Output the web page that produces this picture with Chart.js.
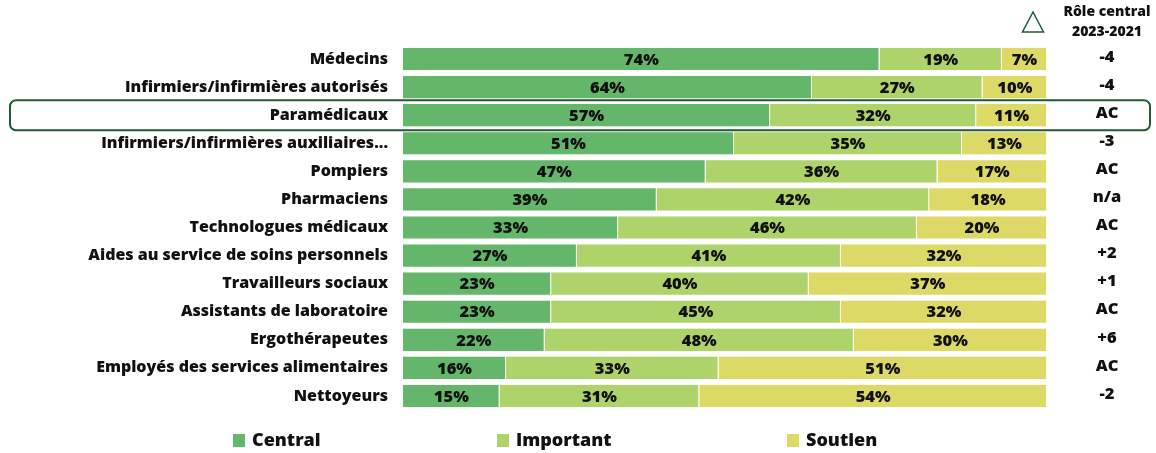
<!DOCTYPE html>
<html>
<head>
<meta charset="utf-8">
<script src="https://cdn.jsdelivr.net/npm/chart.js@4"></script>
<style>
  html, body { margin: 0; padding: 0; background: #fff; }
  #wrap { width: 1156px; height: 453px; position: relative; }
</style>
</head>
<body>
<div id="wrap"><canvas id="chartRoles"></canvas></div>
<script>
var categories = [
    "Médecins",
    "Infirmiers/infirmières autorisés",
    "Paramédicaux",
    "Infirmiers/infirmières auxiliaires...",
    "Pompiers",
    "Pharmaciens",
    "Technologues médicaux",
    "Aides au service de soins personnels",
    "Travailleurs sociaux",
    "Assistants de laboratoire",
    "Ergothérapeutes",
    "Employés des services alimentaires",
    "Nettoyeurs"
];
var central = [74, 63.5, 57, 51.4, 47, 39.4, 33.4, 27, 23, 23, 22, 16, 15];
var important = [19, 26.5, 32, 35.4, 36, 42.3, 46.4, 41, 40, 45, 48, 33, 31];
var soutien = [7, 10, 11, 13.2, 17, 18.3, 20.2, 32, 37, 32, 30, 51, 54];
var changeLabels = ["-4", "-4", "AC", "-3", "AC", "n/a", "AC", "+2", "+1", "AC", "+6", "AC", "-2"];
var seriesNames = ["Central", "Important", "Soutien"];
var seriesColors = ["#64b66a", "#aed36b", "#dcd966"];
var highlightIndex = 2;

var fontFamily = "'Open Sans', Lato, sans-serif";

var overlay = {
    id: "overlay",
    afterDatasetsDraw: function (chart) {
        var ctx = chart.ctx;
        var y = chart.scales.y;
        ctx.save();
        // percentages inside segments
        ctx.font = "800 16.5px " + fontFamily;
        ctx.fillStyle = "#111";
        ctx.textAlign = "center";
        ctx.textBaseline = "middle";
        chart.data.datasets.forEach(function (ds, di) {
            chart.getDatasetMeta(di).data.forEach(function (bar, i) {
                var cx = (bar.x + bar.base) / 2;
                ctx.fillText(Math.round(ds.data[i]) + "%", cx, bar.y + 1);
            });
        });
        // right column
        changeLabels.forEach(function (t, i) {
            ctx.fillText(t, 1107, y.getPixelForValue(i) - 2);
        });
        // header
        ctx.font = "800 14px " + fontFamily;
        ctx.fillText("Rôle central", 1107, 12);
        ctx.fillText("2023-2021", 1107, 32);
        ctx.strokeStyle = "#1f5b35";
        ctx.lineWidth = 1.5;
        ctx.beginPath();
        ctx.moveTo(1033, 12);
        ctx.lineTo(1022.5, 32);
        ctx.lineTo(1043.5, 32);
        ctx.closePath();
        ctx.stroke();
        // highlight box
        var hy = y.getPixelForValue(highlightIndex);
        ctx.strokeStyle = "#1f5b35";
        ctx.lineWidth = 2;
        ctx.beginPath();
        ctx.roundRect(10, hy - 15, 1140, 30, 6);
        ctx.stroke();
        // legend
        var legendX = [233, 497, 787];
        ctx.font = "800 18px " + fontFamily;
        ctx.textAlign = "left";
        seriesNames.forEach(function (n, i) {
            ctx.fillStyle = seriesColors[i];
            ctx.fillRect(legendX[i], 434, 12, 13);
            ctx.fillStyle = "#111";
            ctx.fillText(n, legendX[i] + 19, 441);
        });
        ctx.restore();
    }
};

var ctx = document.getElementById("chartRoles").getContext("2d");

var chartData = {
    labels: categories,
    datasets: [
        { label: seriesNames[0], data: central, backgroundColor: seriesColors[0] },
        { label: seriesNames[1], data: important, backgroundColor: seriesColors[1] },
        { label: seriesNames[2], data: soutien, backgroundColor: seriesColors[2] }
    ].map(function (d) {
        d.borderColor = "#fbfbee";
        d.borderWidth = { top: 1, bottom: 1, left: 0, right: 1 };
        d.borderSkipped = false;
        d.categoryPercentage = 1;
        d.barPercentage = 0.86;
        return d;
    })
};

var options = {
    indexAxis: "y",
    responsive: true,
    maintainAspectRatio: false,
    animation: false,
    layout: { padding: { top: 45, bottom: 43, right: 109, left: 0 } },
    plugins: {
        legend: { display: false },
        tooltip: { enabled: false }
    },
    scales: {
        x: {
            stacked: true,
            min: 0,
            max: 100,
            display: false
        },
        y: {
            stacked: true,
            grid: { display: false, drawBorder: false },
            border: { display: false },
            afterFit: function (scale) { scale.width = 403; },
            ticks: {
                padding: 7,
                color: "#111",
                font: { family: fontFamily, size: 16, weight: "800" }
            }
        }
    }
};

var myChart = new Chart(ctx, {
    type: "bar",
    data: chartData,
    options: options,
    plugins: [overlay]
});
</script>
</body>
</html>
